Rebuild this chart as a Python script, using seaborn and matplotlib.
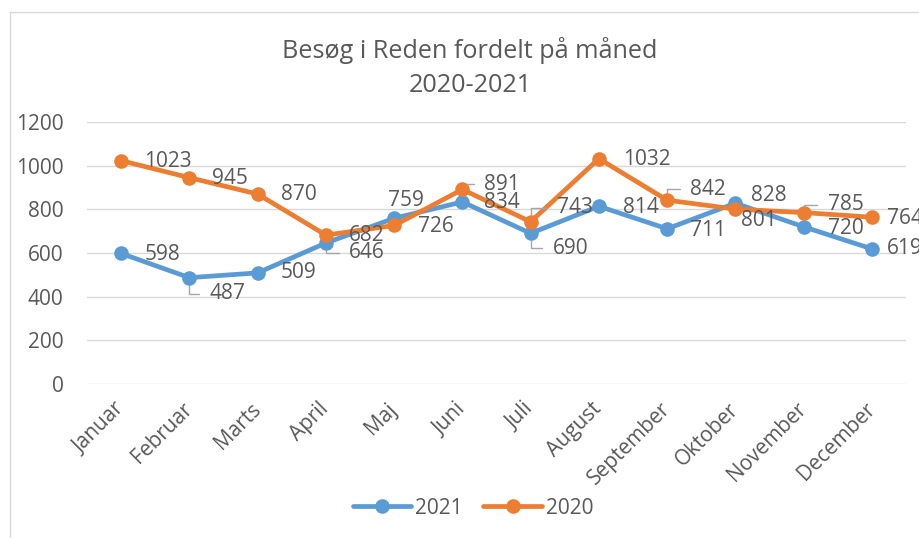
import matplotlib
matplotlib.use("Agg")
import matplotlib.pyplot as plt
from matplotlib.patches import Rectangle
import seaborn as sns
import pandas as pd

months = ["Januar", "Februar", "Marts", "April", "Maj", "Juni", "Juli",
          "August", "September", "Oktober", "November", "December"]
visits_2021 = [598, 487, 509, 646, 759, 834, 690, 814, 711, 828, 720, 619]
visits_2020 = [1023, 945, 870, 682, 726, 891, 743, 1032, 842, 801, 785, 764]
series_names = ["2021", "2020"]
y_ticks = [0, 200, 400, 600, 800, 1000, 1200]

# label placement (pixel offsets from point to label left-centre), leader flag
label_style = {
    "2021": [(23, -1, 0), (20, -16, 1), (23, 0, 0), (23, -10, 1), (-6, 18, 0), (22, -1, 0),
             (22, -15, 1), (24, -1, 0), (23, -2, 0), (16, 8, 0), (24, -2, 0), (15, 0, 0)],
    "2020": [(23, -1, 0), (23, -1, 0), (23, 0, 0), (23, 0, 0), (24, -1, 0), (22, 5, 1),
             (26, 14, 1), (24, -1, 0), (23, 11, 1), (6, -11, 0), (24, 8, 1), (15, -1, 0)],
}

TEXT = "#595959"
GRID = "#D9D9D9"
colors = {"2021": "#5B9BD5", "2020": "#ED7D31"}
FS = 15

sns.set_theme(style="white")
plt.rcParams["font.family"] = ["Open Sans", "DejaVu Sans"]

df = pd.DataFrame({
    "Måned": months * 2,
    "Besøg": visits_2021 + visits_2020,
    "År": ["2021"] * len(months) + ["2020"] * len(months),
})

W, H = 919, 538
fig = plt.figure(figsize=(W / 100, H / 100), dpi=100)
ax = fig.add_axes([87 / W, 1 - 384 / H, (906 - 87) / W, (384 - 122) / H])

sns.lineplot(data=df, x="Måned", y="Besøg", hue="År", hue_order=series_names,
             palette=colors, marker="o", markersize=10.5, markeredgewidth=0,
             linewidth=3.4, sort=False, ax=ax)

ax.set_xlim(-0.5, len(months) - 0.5)
ax.set_ylim(0, 1200)
ax.set_yticks(y_ticks)
ax.set_yticklabels([str(t) for t in y_ticks])
ax.grid(axis="y", color=GRID, linewidth=1.0)
ax.grid(axis="x", visible=False)
ax.set_axisbelow(True)
for s in ax.spines.values():
    s.set_visible(False)
ax.set_xlabel("")
ax.set_ylabel("")
ax.tick_params(axis="y", length=0, pad=17, labelsize=FS, labelcolor=TEXT)
ax.tick_params(axis="x", length=0, pad=16, labelsize=FS, labelcolor=TEXT)
ax.set_xticks(range(len(months)))
ax.set_xticklabels(months, rotation=45, ha="right", va="center", rotation_mode="anchor")

values = {"2021": visits_2021, "2020": visits_2020}
for name in series_names:
    for i, v in enumerate(values[name]):
        dx, dy, leader = label_style[name][i]
        kw = {}
        if leader:
            kw["arrowprops"] = dict(arrowstyle="-", color="#A6A6A6", lw=1.0,
                                    connectionstyle="angle,angleA=0,angleB=90,rad=0",
                                    shrinkA=5, shrinkB=5)
        ax.annotate(str(v), xy=(i, v), xytext=(dx, dy), textcoords="offset pixels",
                    ha="left", va="center", fontsize=FS, color=TEXT,
                    annotation_clip=False, **kw)

fig.text(470 / W, 1 - 50 / H, "Besøg i Reden fordelt på måned", ha="center", va="center",
         fontsize=18.2, color=TEXT)
fig.text(470 / W, 1 - 85 / H, "2020-2021", ha="center", va="center",
         fontsize=18.2, color=TEXT)

handles, labels = ax.get_legend_handles_labels()
ax.legend(handles, labels, loc="center", bbox_to_anchor=(473 / W, 1 - 508 / H),
          bbox_transform=fig.transFigure, ncol=2, frameon=False, fontsize=FS,
          handlelength=2.8, handletextpad=0.2, columnspacing=1.0, labelcolor=TEXT)

fig.add_artist(Rectangle((10 / W, -0.1), 2.0, 1 - 12 / H + 0.1, transform=fig.transFigure,
                         fill=False, edgecolor=GRID, linewidth=1.0))

fig.savefig("out.png", dpi=100)
